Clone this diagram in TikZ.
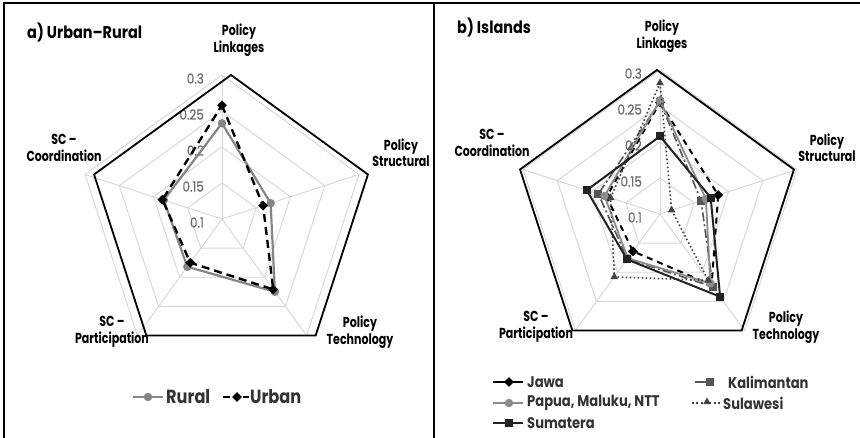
\documentclass[tikz,border=0pt]{standalone}
\usepackage{fontspec}
\setmainfont{Poppins}[FakeStretch=0.85]
\newfontfamily\catfont{Poppins}[FakeStretch=0.76]
\newfontfamily\tickfont{Poppins}[FakeStretch=0.85, FakeBold=0.5]
\usetikzlibrary{shapes.geometric}

\definecolor{gridgray}{HTML}{D6D6D6}
\definecolor{tickgray}{HTML}{6A6A6A}
\definecolor{leggray}{HTML}{333333}
\definecolor{ruralgray}{HTML}{858585}
\definecolor{papuagray}{HTML}{8C8C8C}
\definecolor{kaligray}{HTML}{555555}
\definecolor{sulagray}{HTML}{444444}
\definecolor{sumablack}{HTML}{222222}

% one data series of a radar chart: id, line style, marker style,
% then the values on Linkages, Structural, Technology, Participation, Coordination
\newcommand\radarseries[8]{%
  \coordinate (#1L) at (90:{(#4-0.1)*720});
  \coordinate (#1S) at (18:{(#5-0.1)*720});
  \coordinate (#1T) at (-54:{(#6-0.1)*720});
  \coordinate (#1P) at (-126:{(#7-0.1)*720});
  \coordinate (#1C) at (162:{(#8-0.1)*720});
  \draw[#2] (#1L) -- (#1S) -- (#1T) -- (#1P) -- (#1C) -- cycle;
  \foreach \k in {L,S,T,P,C} \node[#3] (#1m\k) at (#1\k) {};
}

% light grid: rings at 0.15, 0.2, 0.25, 0.3 (centre = 0.1) and five spokes
\newcommand\radargrid[1]{%
  \foreach \r in {36,72,108,144}
    \draw[gridline] (90:\r) -- (18:\r) -- (-54:\r) -- (-126:\r) -- (162:\r) -- cycle;
  \foreach \a in {90,18,-54,-126,162}
    \draw[gridline] (0,0) -- (\a:144);
  \foreach \v/\r/\n in {0.3/144/a,0.25/108/b,0.2/72/c,0.15/36/d,0.1/0/e}
    \node[tick] (#1tick\n) at (-18,\r-3.5) {\v};
}

\newcommand\outerpent{%
  \draw[outerline] (90:144) -- (18:144) -- (-54:144) -- (-126:144) -- (162:144) -- cycle;
}

\tikzset{
  gridline/.style={draw=gridgray, line width=0.9pt},
  outerline/.style={draw=black, line width=1.8pt, line join=miter},
  frame/.style={draw=black, line width=1.6pt},
  tick/.style={font=\tickfont\fontsize{14}{16}\selectfont, text=tickgray, anchor=east, inner sep=0pt},
  cat/.style={font=\catfont\bfseries\fontsize{14.5}{16.5}\selectfont, align=center, text=black, inner sep=0pt},
  ttl/.style={font=\bfseries\fontsize{17}{20}\selectfont, anchor=west, inner sep=0pt},
  leg/.style={font=\bfseries\fontsize{19}{22}\selectfont, text=leggray, anchor=west, inner sep=0pt},
  legs/.style={font=\bfseries\fontsize{15.4}{18}\selectfont, text=leggray, anchor=west, inner sep=0pt},
  mcircle/.style={circle, fill=#1, inner sep=0pt, minimum size=8.5pt},
  mdiamond/.style={diamond, aspect=1, fill=#1, inner sep=0pt, minimum size=10pt},
  msquare/.style={rectangle, fill=#1, inner sep=0pt, minimum size=8pt},
  mtri/.style={regular polygon, regular polygon sides=3, fill=#1, inner sep=0pt, minimum size=9pt},
  rural/.style={draw=ruralgray, line width=2.2pt, line join=round},
  urban/.style={draw=black, line width=2.4pt, dash pattern=on 8pt off 5pt, line join=round},
  jawa/.style={draw=black, line width=2pt, dash pattern=on 6pt off 5pt},
  kali/.style={draw=kaligray, line width=1.6pt, dash pattern=on 9pt off 3pt on 2pt off 3pt},
  papua/.style={draw=papuagray, line width=1.8pt},
  sula/.style={draw=sulagray, line width=1.6pt, dash pattern=on 1.6pt off 2.4pt},
  suma/.style={draw=sumablack, line width=2pt},
}

\begin{document}
\begin{tikzpicture}[x=1pt, y=1pt]
\useasboundingbox (0,0) rectangle (860,438);
\fill[white] (0,0) rectangle (860,438);

% panel frame and divider
\draw[frame] (4,0) -- (4,435) -- (860,435);
\draw[frame] (434,0) -- (434,435);

% ---------------- a) Urban-Rural ----------------
\begin{scope}[shift={(222,219)}]
  \radargrid{a}
\end{scope}
\begin{scope}[shift={(231,219)}]
  \outerpent
\end{scope}
\begin{scope}[shift={(222,219)}]
  \radarseries{ru}{rural}{mcircle=ruralgray}{0.233}{0.171}{0.225}{0.182}{0.185}
  \radarseries{ur}{urban}{mdiamond=black}{0.258}{0.160}{0.221}{0.175}{0.187}
\end{scope}

\node[ttl] (ta) at (27,405) {a) Urban–Rural};
\node[cat] (aL) at (239,398) {Policy\\Linkages};
\node[cat] (aS) at (401,285) {Policy\\Structural};
\node[cat] (aC) at (64,290) {SC –\\Coordination};
\node[cat] (aP) at (112,106) {SC –\\Participation};
\node[cat] (aT) at (360,106) {Policy\\Technology};

% legend a
\coordinate (lr1) at (133,41); \coordinate (lr2) at (163,41);
\draw[draw=ruralgray, line width=2.2pt] (lr1) -- (lr2);
\node[mcircle=ruralgray] (lrm) at (148,41) {};
\node[leg] (lrt) at (166,41) {Rural};
\coordinate (lu1) at (223,41); \coordinate (lu2) at (230,41);
\coordinate (lu3) at (243,41); \coordinate (lu4) at (249,41);
\draw[draw=black, line width=2.4pt] (lu1) -- (lu2) (lu3) -- (lu4);
\node[mdiamond=black] (lum) at (237,41) {};
\node[leg] (lut) at (250,41) {Urban};

% ---------------- b) Islands ----------------
\begin{scope}[shift={(660,224)}]
  \radargrid{b}
\end{scope}
\begin{scope}[shift={(657,224)}]
  \outerpent
\end{scope}
\begin{scope}[shift={(660,224)}]
  \radarseries{jw}{jawa}{mdiamond=black}{0.255}{0.185}{0.222}{0.164}{0.178}
  \radarseries{ka}{kali}{msquare=kaligray}{0.256}{0.160}{0.225}{0.177}{0.190}
  \radarseries{pa}{papua}{mcircle=papuagray}{0.258}{0.167}{0.219}{0.176}{0.181}
  \radarseries{su}{sula}{mtri=sulagray}{0.282}{0.117}{0.214}{0.208}{0.172}
  \radarseries{sm}{suma}{msquare=sumablack}{0.208}{0.174}{0.242}{0.178}{0.207}
\end{scope}

\node[ttl] (tb) at (457,410) {b) Islands};
\node[cat] (bL) at (662,402) {Policy\\Linkages};
\node[cat] (bS) at (827,290) {Policy\\Structural};
\node[cat] (bC) at (492,295) {SC –\\Coordination};
\node[cat] (bP) at (536,111) {SC –\\Participation};
\node[cat] (bT) at (786,111) {Policy\\Technology};

% legend b
\coordinate (lj1) at (493,56); \coordinate (lj2) at (523,56);
\draw[draw=black, line width=2pt] (lj1) -- (lj2);
\node[mdiamond=black] (ljm) at (509,56) {};
\node[legs] (ljt) at (527,56) {Jawa};

\coordinate (lp1) at (493,35); \coordinate (lp2) at (523,35);
\draw[draw=papuagray, line width=2pt] (lp1) -- (lp2);
\node[mcircle=papuagray] (lpm) at (509,35) {};
\node[legs] (lpt) at (527,35) {Papua, Maluku, NTT};

\coordinate (ls1) at (493,15); \coordinate (ls2) at (523,15);
\draw[draw=sumablack, line width=2pt] (ls1) -- (ls2);
\node[msquare=sumablack] (lsm) at (509,15) {};
\node[legs] (lst) at (527,15) {Sumatera};

\coordinate (lk1) at (695,56); \coordinate (lk2) at (714,56);
\draw[draw=kaligray, line width=2pt] (lk1) -- (lk2);
\node[msquare=kaligray] (lkm) at (710,56) {};
\node[legs] (lkt) at (728,56) {Kalimantan};

\coordinate (lw1) at (692,35); \coordinate (lw2) at (721,35);
\draw[draw=sulagray, line width=1.8pt, dash pattern=on 1.8pt off 2.6pt] (lw1) -- (lw2);
\node[mtri=sulagray] (lwm) at (707,36) {};
\node[legs] (lwt) at (723,35) {Sulawesi};
\end{tikzpicture}
\end{document}
